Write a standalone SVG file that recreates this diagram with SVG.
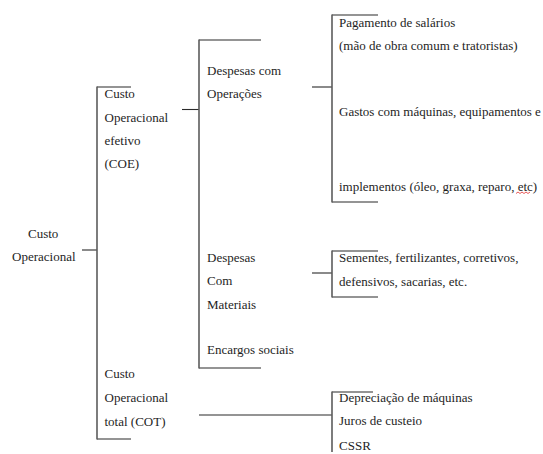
<svg xmlns="http://www.w3.org/2000/svg" width="543" height="454" viewBox="0 0 543 454">
<style>
.t{font-family:'Liberation Serif','Times New Roman','DejaVu Serif',serif;font-size:13px;fill:#1e1e1e}
.h{fill:none;stroke:#2a2a2a;stroke-width:1.1}
.v{fill:none;stroke:#5c5c5c;stroke-width:1.6}
</style>
<rect width="543" height="454" fill="#fff"/>
<g id="connectors">
<path class="h" d="M82,250H97"/>
<path class="h" d="M131,87H97M97,439H131"/>
<path class="v" d="M97,86.5V439.5"/>
<path class="h" d="M182,109.5H199"/>
<path class="h" d="M261,40H199M199,368H261"/>
<path class="v" d="M199,39.5V368.5"/>
<path class="h" d="M312,87H332"/>
<path class="h" d="M378,15H332M332,202H378"/>
<path class="v" d="M332,14.5V202.5"/>
<path class="h" d="M312,273H332"/>
<path class="h" d="M378,251H332M332,297H378"/>
<path class="v" d="M332,250.5V297.5"/>
<path class="h" d="M199,415H332"/>
<path class="h" d="M373,392H332"/>
<path class="v" d="M332,391.5V452"/>
</g>
<g class="t">
<g id="root"><text x="28" y="238">Custo</text><text x="12" y="261">Operacional</text></g>
<g id="coe"><text x="104.5" y="98">Custo</text><text x="104.5" y="121.5">Operacional</text><text x="104.5" y="145">efetivo</text><text x="104.5" y="168">(COE)</text></g>
<g id="cot"><text x="104.5" y="378">Custo</text><text x="104.5" y="402">Operacional</text><text x="104.5" y="426">total (COT)</text></g>
<g id="desp-op"><text x="207" y="75">Despesas com</text><text x="207" y="98">Operações</text></g>
<g id="desp-mat"><text x="207" y="261.5">Despesas</text><text x="207" y="285">Com</text><text x="207" y="308.5">Materiais</text></g>
<g id="encargos"><text x="207" y="354">Encargos sociais</text></g>
<g id="op-items">
<text x="339" y="27">Pagamento de salários</text>
<text x="339" y="50">(mão de obra comum e tratoristas)</text>
<text x="339" y="115.5">Gastos com máquinas, equipamentos e</text>
<text x="339" y="191">implementos (óleo, graxa, reparo, etc)</text>
<path d="M516,193.5l2,-1.5l2,1.5l2,-1.5l2,1.5l2,-1.5l2,1.5l2,-1.5" fill="none" stroke="#e03030" stroke-width="0.8"/>
</g>
<g id="mat-items"><text x="339" y="262">Sementes, fertilizantes, corretivos,</text><text x="339" y="285.5">defensivos, sacarias, etc.</text></g>
<g id="cot-items"><text x="339" y="401.5">Depreciação de máquinas</text><text x="339" y="425">Juros de custeio</text><text x="339" y="450">CSSR</text></g>
</g>
</svg>
